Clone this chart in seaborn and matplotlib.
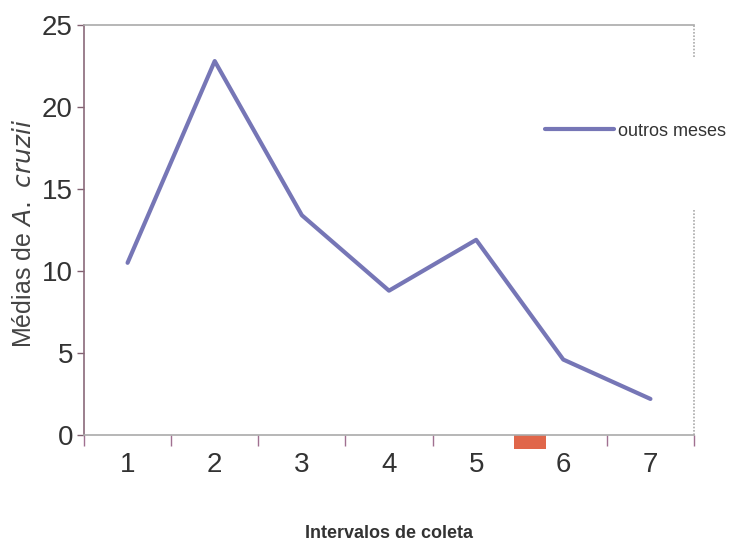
import matplotlib
matplotlib.use("Agg")
import matplotlib.pyplot as plt
import matplotlib.patches as mpatches
import matplotlib.transforms as mtransforms
import seaborn as sns
import pandas as pd

# Mean counts of A. cruzii per sampling interval
intervalos = [1, 2, 3, 4, 5, 6, 7]
medias = [10.5, 22.8, 13.4, 8.8, 11.9, 4.6, 2.2]
serie = "outros meses"
yticks = [0, 5, 10, 15, 20, 25]

df = pd.DataFrame({"intervalo": intervalos, "media": medias, "serie": serie})

sns.set_style("white")
plt.rcParams["font.family"] = ["Liberation Sans", "DejaVu Sans"]

fig = plt.figure(figsize=(7.32, 5.48), dpi=100)
ax = fig.add_axes([84 / 732, 1 - 435 / 548, 610 / 732, 410 / 548])

sns.lineplot(data=df, x="intervalo", y="media", hue="serie",
             palette=["#7676B6"], linewidth=3, ax=ax)

ax.set_xlim(0.5, 7.5)
ax.set_ylim(0, 25)

# category labels centred, tick marks at the category boundaries
ax.set_xticks(intervalos)
ax.set_xticklabels([str(i) for i in intervalos], fontsize=20, color="#333333")
ax.set_xticks([i + 0.5 for i in [0] + intervalos], minor=True)
ax.tick_params(axis="x", which="major", length=0, pad=12)
ax.tick_params(axis="x", which="minor", length=8, width=1, color="#a07090",
               direction="out", bottom=True)
ax.set_yticks(yticks)
ax.set_yticklabels([str(v) for v in yticks], fontsize=20, color="#333333")
ax.tick_params(axis="y", length=5, width=1, color="#806070", direction="out",
               left=True, pad=3)

for side in ["top", "bottom"]:
    ax.spines[side].set_linestyle((0, (1.5, 1)))
    ax.spines[side].set_color("#aaaaaa")
    ax.spines[side].set_linewidth(1.2)
ax.spines["left"].set_color("#8a6a7a")
ax.spines["left"].set_linewidth(1.2)
ax.spines["right"].set_visible(False)

# right border only partly drawn, interrupted by the legend area
for lo, hi in [(0, (435 - 210) / 410), ((435 - 57) / 410, 1)]:
    ax.axvline(7.5, ymin=lo, ymax=hi, color="#aaaaaa", linewidth=1.2,
               linestyle=(0, (1, 1)), clip_on=False)

ax.set_xlabel("Intervalos de coleta", fontsize=13, fontweight="bold",
              color="#333333")
ax.xaxis.set_label_coords(0.5, (435 - 533) / 410)
ax.xaxis.label.set_va("center")
ax.set_ylabel("Médias de $\\mathit{A.\\ cruzii}$", fontsize=18,
              color="#444444")
ax.yaxis.set_label_coords((24 - 84) / 610, (435 - 233) / 410)
ax.yaxis.label.set_va("center")

# small marker below the axis between intervals 5 and 6
trans = mtransforms.blended_transform_factory(ax.transData, ax.transAxes)
ax.add_patch(mpatches.Rectangle((5.434, -0.034), 0.366, 0.033, transform=trans,
                                facecolor="#E0664A", edgecolor="none",
                                clip_on=False))

leg = ax.legend(loc="center left", bbox_to_anchor=((545 - 84) / 610, (435 - 131) / 410),
                frameon=False, fontsize=13, handlelength=3.8, handletextpad=0.25,
                borderaxespad=0, borderpad=0)
for t in leg.get_texts():
    t.set_color("#333333")

fig.savefig("out.png", dpi=100)
